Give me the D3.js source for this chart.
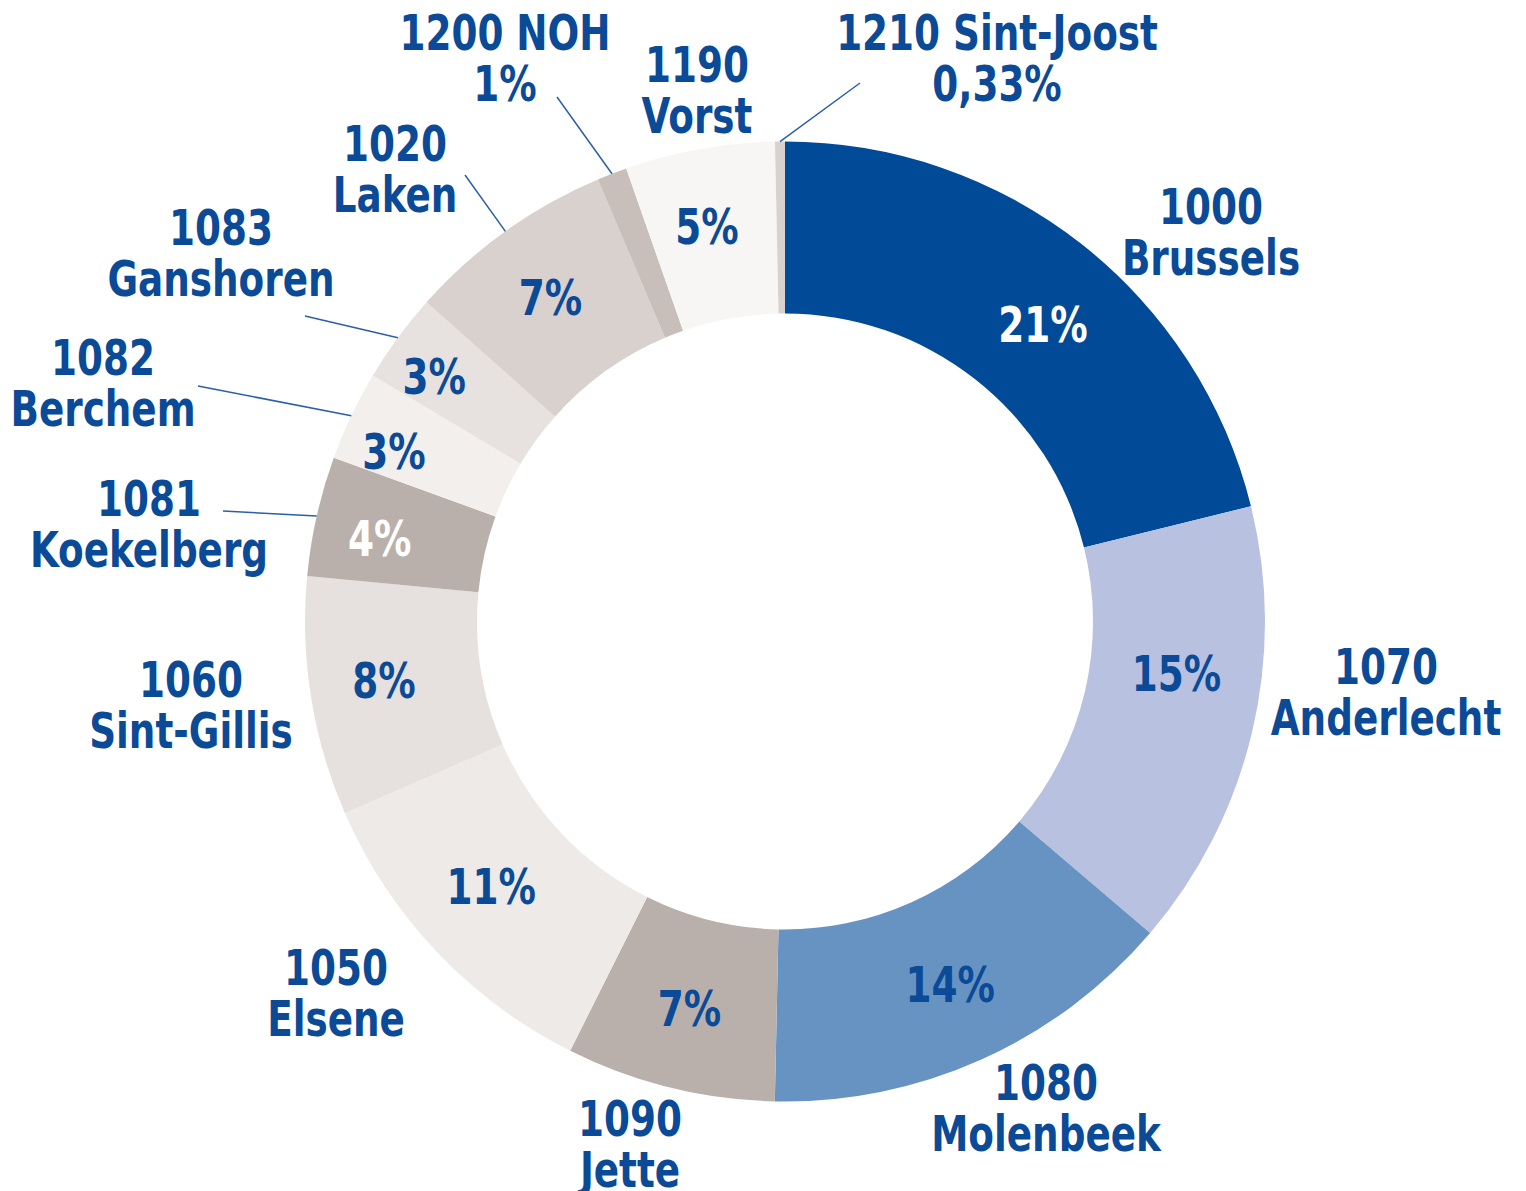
<!DOCTYPE html>
<html><head><meta charset="utf-8">
<script src="https://cdn.jsdelivr.net/npm/d3@7"></script>
<style>html,body{margin:0;padding:0;background:#fff;} svg{display:block;}</style>
</head><body>
<script>
// ---- data ----
const codes = ["1000","1070","1080","1090","1050","1060","1081","1082","1083","1020","1200","1190","1210"];
const names = ["Brussels","Anderlecht","Molenbeek","Jette","Elsene","Sint-Gillis","Koekelberg","Berchem","Ganshoren","Laken","NOH","Vorst","Sint-Joost"];
const shares = [21,15,14,7,11,8,4,3,3,7,1,5,0.33];
const shareLabels = ["21%","15%","14%","7%","11%","8%","4%","3%","3%","7%","1%","5%","0,33%"];

// ---- styles ----
const sliceColors = ["#014a97","#b9c1e1","#6793c3","#bab0ab","#eeeae8","#e6e1de","#bab0ab","#f2efed","#e7e2df","#d8d1cd","#c9bfba","#f8f6f4","#d8d1cd"];
const whiteLabel = ["1000","1081"];
const outsidePct = ["1200","1210"]; // percentage shown in outer label instead of slice
// layout: outer label center x, first-line baseline; leader start (optional)
const outerLayout = {
  "1000":{x:1211,y:224},
  "1070":{x:1386,y:684},
  "1080":{x:1046,y:1100},
  "1090":{x:630,y:1136},
  "1050":{x:336,y:985},
  "1060":{x:191,y:697},
  "1081":{x:149,y:516,lx:223,ly:511},
  "1082":{x:103,y:375,lx:198,ly:386},
  "1083":{x:221,y:245,lx:305,ly:316},
  "1020":{x:395,y:161,lx:465,ly:175},
  "1200":{x:505,y:50,lx:557,ly:97},
  "1190":{x:697,y:82},
  "1210":{x:997,y:50,lx:860,ly:83}
};
// nudges of inside labels from the slice centroid
const innerNudge = {
  "1000":[15,13],"1070":[8,-39],"1080":[4,3],"1090":[-1,4],"1050":[-8,-7],
  "1060":[-12,-3],"1081":[-21,3],"1082":[-35,-2],"1083":[-33,-13],"1020":[-5,-4],"1190":[-8,-8]
};

const W=1526,H=1191, cx=785, cy=621.5, R=480, r0=308;
const FONT="'DejaVu Sans Condensed','DejaVu Sans',sans-serif";
const FS=50, LH=51, SX=0.83, BLUE="#0a4a97";

const data = codes.map((c,i)=>({code:c,name:names[i],value:shares[i],label:shareLabels[i]}));
const color = d3.scaleOrdinal().domain(codes).range(sliceColors);

const svg = d3.select("body").append("svg").attr("width",W).attr("height",H);
const g = svg.append("g").attr("transform",`translate(${cx},${cy})`);

const pie = d3.pie().value(d=>d.value).sort(null);
const arcs = pie(data);
const arc = d3.arc().innerRadius(r0).outerRadius(R);
const midArc = d3.arc().innerRadius((r0+R)/2).outerRadius((r0+R)/2);
const edgeArc = d3.arc().innerRadius(R).outerRadius(R);

g.selectAll("path.slice").data(arcs).join("path")
  .attr("class","slice")
  .attr("d",arc)
  .attr("fill",d=>color(d.data.code));

function label(parent, x, y, lines, fill){
  const t = parent.append("text")
    .attr("transform",`translate(${x},${y}) scale(${SX},1)`)
    .attr("text-anchor","middle")
    .attr("font-family",FONT).attr("font-weight","bold").attr("font-size",FS)
    .attr("fill",fill);
  lines.forEach((s,i)=>t.append("tspan").attr("x",0).attr("y",i*LH).text(s));
  return t;
}

// inside labels
arcs.filter(d=>!outsidePct.includes(d.data.code)).forEach(d=>{
  const c = midArc.centroid(d), n = innerNudge[d.data.code]||[0,0];
  label(g, c[0]+n[0], c[1]+n[1]+FS*0.36, [d.data.label],
        whiteLabel.includes(d.data.code)?"#fff":BLUE);
});

// leader lines
const lead = svg.append("g");
arcs.forEach(d=>{
  const L = outerLayout[d.data.code];
  if(L.lx===undefined) return;
  const e = edgeArc.centroid(d);
  lead.append("line")
    .attr("x1",L.lx).attr("y1",L.ly)
    .attr("x2",cx+e[0]).attr("y2",cy+e[1])
    .attr("stroke","#2b5fa8").attr("stroke-width",1.5);
});

// outer labels
const outer = svg.append("g");
arcs.forEach(d=>{
  const L = outerLayout[d.data.code];
  const isPct = outsidePct.includes(d.data.code);
  const l1 = isPct ? d.data.code+" "+d.data.name : d.data.code;
  const l2 = isPct ? d.data.label : d.data.name;
  label(outer, L.x, L.y, [l1,l2], BLUE);
});
</script>
</body></html>
